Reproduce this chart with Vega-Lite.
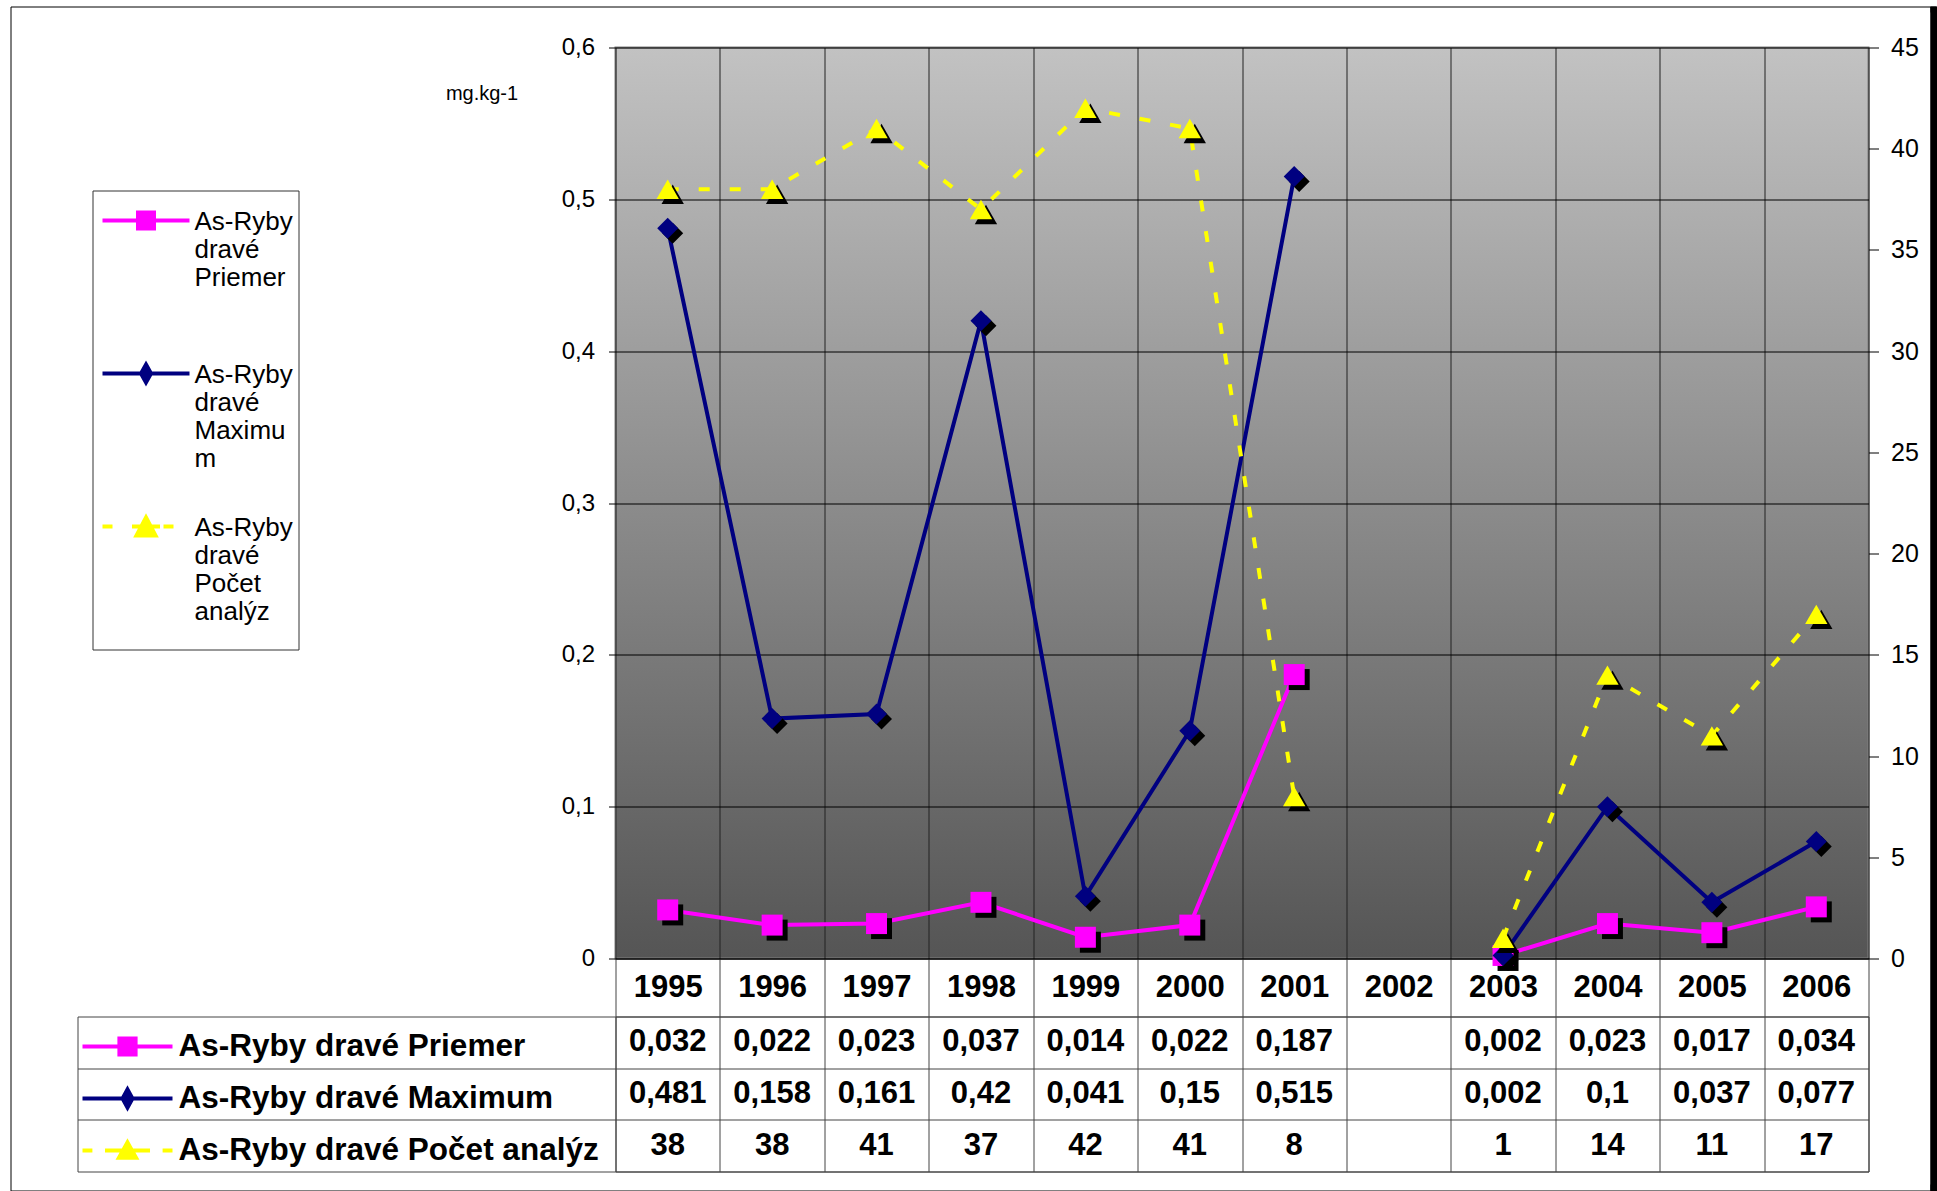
{
  "$schema": "https://vega.github.io/schema/vega-lite/v6.json",
  "padding": {"left": 9.5, "top": 5.5, "right": 0, "bottom": 0},
  "background": "#ffffff",
  "config": {
    "font": "Liberation Sans",
    "locale": {"number": {"decimal": ",", "thousands": " ", "grouping": [3], "currency": ["", " €"]}},
    "axis": {"labelColor": "#000000", "titleColor": "#000000"},
    "legend": {"labelColor": "#000000"}
  },
  "data": {"values": [
    {"year": 1995, "series": "As-Ryby dravé Priemer", "value": 0.032},
    {"year": 1996, "series": "As-Ryby dravé Priemer", "value": 0.022},
    {"year": 1997, "series": "As-Ryby dravé Priemer", "value": 0.023},
    {"year": 1998, "series": "As-Ryby dravé Priemer", "value": 0.037},
    {"year": 1999, "series": "As-Ryby dravé Priemer", "value": 0.014},
    {"year": 2000, "series": "As-Ryby dravé Priemer", "value": 0.022},
    {"year": 2001, "series": "As-Ryby dravé Priemer", "value": 0.187},
    {"year": 2002, "series": "As-Ryby dravé Priemer", "value": null},
    {"year": 2003, "series": "As-Ryby dravé Priemer", "value": 0.002},
    {"year": 2004, "series": "As-Ryby dravé Priemer", "value": 0.023},
    {"year": 2005, "series": "As-Ryby dravé Priemer", "value": 0.017},
    {"year": 2006, "series": "As-Ryby dravé Priemer", "value": 0.034},
    {"year": 1995, "series": "As-Ryby dravé Maximum", "value": 0.481},
    {"year": 1996, "series": "As-Ryby dravé Maximum", "value": 0.158},
    {"year": 1997, "series": "As-Ryby dravé Maximum", "value": 0.161},
    {"year": 1998, "series": "As-Ryby dravé Maximum", "value": 0.42},
    {"year": 1999, "series": "As-Ryby dravé Maximum", "value": 0.041},
    {"year": 2000, "series": "As-Ryby dravé Maximum", "value": 0.15},
    {"year": 2001, "series": "As-Ryby dravé Maximum", "value": 0.515},
    {"year": 2002, "series": "As-Ryby dravé Maximum", "value": null},
    {"year": 2003, "series": "As-Ryby dravé Maximum", "value": 0.002},
    {"year": 2004, "series": "As-Ryby dravé Maximum", "value": 0.1},
    {"year": 2005, "series": "As-Ryby dravé Maximum", "value": 0.037},
    {"year": 2006, "series": "As-Ryby dravé Maximum", "value": 0.077},
    {"year": 1995, "series": "As-Ryby dravé Počet analýz", "value": 38},
    {"year": 1996, "series": "As-Ryby dravé Počet analýz", "value": 38},
    {"year": 1997, "series": "As-Ryby dravé Počet analýz", "value": 41},
    {"year": 1998, "series": "As-Ryby dravé Počet analýz", "value": 37},
    {"year": 1999, "series": "As-Ryby dravé Počet analýz", "value": 42},
    {"year": 2000, "series": "As-Ryby dravé Počet analýz", "value": 41},
    {"year": 2001, "series": "As-Ryby dravé Počet analýz", "value": 8},
    {"year": 2002, "series": "As-Ryby dravé Počet analýz", "value": null},
    {"year": 2003, "series": "As-Ryby dravé Počet analýz", "value": 1},
    {"year": 2004, "series": "As-Ryby dravé Počet analýz", "value": 14},
    {"year": 2005, "series": "As-Ryby dravé Počet analýz", "value": 11},
    {"year": 2006, "series": "As-Ryby dravé Počet analýz", "value": 17}
  ]},
  "bounds": "flush",
  "spacing": 58,
  "resolve": {
    "scale": {"fill": "independent", "stroke": "independent", "shape": "independent"},
    "legend": {"fill": "independent", "stroke": "independent", "shape": "independent"}
  },
  "vconcat": [
    {
      "width": 1253,
      "height": 911,
      "view": {
        "fill": {"gradient": "linear", "x1": 0, "y1": 0, "x2": 0, "y2": 1, "stops": [{"offset": 0, "color": "#c2c2c2"}, {"offset": 1, "color": "#555555"}]},
        "stroke": "#808080",
        "strokeWidth": 2
      },
      "encoding": {
        "x": {
          "field": "year", "type": "ordinal",
          "scale": {"type": "band", "domain": [1995, 1996, 1997, 1998, 1999, 2000, 2001, 2002, 2003, 2004, 2005, 2006], "paddingInner": 0, "paddingOuter": 0},
          "axis": {
            "orient": "bottom", "tickBand": "extent", "grid": true, "gridColor": "#222222", "gridOpacity": 1, "gridWidth": 1,
            "domain": true, "domainColor": "#000000", "domainWidth": 1,
            "ticks": true, "tickSize": 58, "tickColor": "#444444", "tickWidth": 1,
            "labelFontSize": 31, "labelFontWeight": "bold", "labelBaseline": "middle", "labelPadding": -29, "labelAngle": 0,
            "labelOverlap": false, "labelFlush": false, "title": null
          }
        }
      },
      "layer": [
        {
          "encoding": {
            "y": {
              "field": "value", "type": "quantitative",
              "scale": {"domain": [0, 0.6], "nice": false, "zero": true},
              "axis": {
                "orient": "left", "values": [0, 0.1, 0.2, 0.3, 0.4, 0.5, 0.6], "format": "~g",
                "grid": true, "gridColor": "#000000", "gridOpacity": 1, "gridWidth": 1,
                "domain": false, "tickSize": 7, "tickColor": "#000000",
                "labelFontSize": 24, "labelPadding": 14,
                "title": "mg.kg-1", "titleAngle": 0, "titleX": -134, "titleY": 52, "titleAlign": "center", "titleBaseline": "alphabetic",
                "titleFontSize": 20, "titleFontWeight": "normal"
              }
            }
          },
          "layer": [
            {"transform": [{"filter": "datum.series === 'As-Ryby dravé Priemer'"}], "mark": {"type": "line", "color": "#ff00ff", "strokeWidth": 4, "invalid": "break-paths-show-domains"}},
            {"transform": [{"filter": "datum.series === 'As-Ryby dravé Priemer'"}], "mark": {"type": "point", "shape": "square", "filled": true, "color": "#000000", "opacity": 1, "size": 440, "xOffset": 5, "yOffset": 5}},
            {"transform": [{"filter": "datum.series === 'As-Ryby dravé Priemer'"}], "mark": {"type": "point", "shape": "square", "filled": true, "color": "#ff00ff", "opacity": 1, "size": 440}},
            {"transform": [{"filter": "datum.series === 'As-Ryby dravé Maximum'"}], "mark": {"type": "line", "color": "#000080", "strokeWidth": 4, "invalid": "break-paths-show-domains"}},
            {"transform": [{"filter": "datum.series === 'As-Ryby dravé Maximum'"}], "mark": {"type": "point", "shape": "diamond", "filled": true, "color": "#000000", "opacity": 1, "size": 440, "xOffset": 5, "yOffset": 5}},
            {"transform": [{"filter": "datum.series === 'As-Ryby dravé Maximum'"}], "mark": {"type": "point", "shape": "diamond", "filled": true, "color": "#000080", "opacity": 1, "size": 440}}
          ]
        },
        {
          "encoding": {
            "y": {
              "field": "value", "type": "quantitative",
              "scale": {"domain": [0, 45], "nice": false, "zero": true},
              "axis": {
                "orient": "right", "values": [0, 5, 10, 15, 20, 25, 30, 35, 40, 45],
                "grid": false, "domain": false, "tickSize": 10, "tickColor": "#000000",
                "labelFontSize": 25, "labelPadding": 12, "title": null
              }
            }
          },
          "layer": [
            {"transform": [{"filter": "datum.series === 'As-Ryby dravé Počet analýz'"}], "mark": {"type": "line", "color": "#ffff00", "strokeWidth": 4, "strokeDash": [11, 20], "invalid": "break-paths-show-domains"}},
            {"transform": [{"filter": "datum.series === 'As-Ryby dravé Počet analýz'"}], "mark": {"type": "point", "shape": "triangle-up", "filled": true, "color": "#000000", "opacity": 1, "size": 500, "xOffset": 5, "yOffset": 5}},
            {"transform": [{"filter": "datum.series === 'As-Ryby dravé Počet analýz'"}], "mark": {"type": "point", "shape": "triangle-up", "filled": true, "color": "#ffff00", "opacity": 1, "size": 500}}
          ]
        },
        {
          "transform": [{"filter": "false"}],
          "mark": {"type": "point", "filled": true, "opacity": 1},
          "encoding": {
            "fill": {
              "field": "series", "type": "nominal",
              "scale": {"domain": ["As-Ryby dravé Priemer", "As-Ryby dravé Maximum", "As-Ryby dravé Počet analýz"], "range": ["#ff00ff", "#000080", "#ffff00"]},
              "legend": {
                "orient": "none", "legendX": -523, "legendY": 143, "direction": "vertical", "title": null,
                "padding": 5.5, "rowPadding": 11, "gridAlign": "all",
                "symbolSize": 400, "symbolStrokeWidth": 4, "symbolOffset": 35,
                "labelOffset": 35.5, "labelFontSize": 26, "labelLimit": 400, "labelBaseline": "top",
                "labelExpr": "datum.label === 'As-Ryby dravé Priemer' ? ['As-Ryby','dravé','Priemer'] : datum.label === 'As-Ryby dravé Maximum' ? ['As-Ryby','dravé','Maximu','m'] : ['As-Ryby','dravé','Počet','analýz']",
                "strokeColor": "#333333", "fillColor": "#ffffff"
              }
            },
            "stroke": {
              "field": "series", "type": "nominal",
              "scale": {"domain": ["As-Ryby dravé Priemer", "As-Ryby dravé Maximum", "As-Ryby dravé Počet analýz"], "range": ["#ff00ff", "#000080", "#ffff00"]},
              "legend": {
                "orient": "none", "legendX": -523, "legendY": 143, "direction": "vertical", "title": null,
                "padding": 5.5, "rowPadding": 11, "gridAlign": "all",
                "symbolSize": 400, "symbolStrokeWidth": 4, "symbolOffset": 35,
                "labelOffset": 35.5, "labelFontSize": 26, "labelLimit": 400, "labelBaseline": "top",
                "labelExpr": "datum.label === 'As-Ryby dravé Priemer' ? ['As-Ryby','dravé','Priemer'] : datum.label === 'As-Ryby dravé Maximum' ? ['As-Ryby','dravé','Maximu','m'] : ['As-Ryby','dravé','Počet','analýz']",
                "strokeColor": "#333333", "fillColor": "#ffffff"
              }
            },
            "shape": {
              "field": "series", "type": "nominal",
              "scale": {"domain": ["As-Ryby dravé Priemer", "As-Ryby dravé Maximum", "As-Ryby dravé Počet analýz"], "range": ["M-4.35,1.15H4.35M-0.8,0.35H0.8V1.95H-0.8ZM0,12.1", "M-4.35,1.15H4.35M0,0.25L0.5,1.15L0,2.05L-0.5,1.15ZM0,12.1", "M-4.35,1.15H-3.35M-1.4,1.15H1.4M1.75,1.15H2.75M0,0.25L0.95,2.05H-0.95ZM0,12.1"]},
              "legend": {
                "orient": "none", "legendX": -523, "legendY": 143, "direction": "vertical", "title": null,
                "padding": 5.5, "rowPadding": 11, "gridAlign": "all",
                "symbolSize": 400, "symbolStrokeWidth": 4, "symbolOffset": 35,
                "labelOffset": 35.5, "labelFontSize": 26, "labelLimit": 400, "labelBaseline": "top",
                "labelExpr": "datum.label === 'As-Ryby dravé Priemer' ? ['As-Ryby','dravé','Priemer'] : datum.label === 'As-Ryby dravé Maximum' ? ['As-Ryby','dravé','Maximu','m'] : ['As-Ryby','dravé','Počet','analýz']",
                "strokeColor": "#333333", "fillColor": "#ffffff"
              }
            }
          }
        },
        {
          "transform": [{"filter": "false"}],
          "mark": {"type": "point", "filled": true, "color": "transparent"},
          "encoding": {
            "opacity": {
              "field": "series", "type": "ordinal",
              "scale": {"domain": ["frame"], "range": [0]},
              "legend": {
                "orient": "none", "legendX": -605, "legendY": -41, "title": null,
                "padding": 0, "symbolType": "square", "symbolSize": 1401856, "symbolStrokeWidth": 0, "symbolOpacity": 0,
                "labelExpr": "''", "labelOffset": 736, "labelFontSize": 10,
                "strokeColor": "#000000", "fillColor": null,
                "encode": {"symbols": {"fill": {"value": "transparent"}, "stroke": {"value": "transparent"}, "opacity": {"value": 0}}}
              }
            }
          }
        },
        {
          "transform": [{"filter": "false"}],
          "mark": {"type": "point", "filled": true, "color": "#000000", "opacity": 1},
          "encoding": {
            "size": {
              "field": "series", "type": "ordinal",
              "scale": {"domain": ["shadow-a", "shadow-b"], "range": [36, 36]},
              "legend": {
                "orient": "none", "legendX": 1315, "legendY": -41, "title": null, "direction": "vertical",
                "padding": 0, "rowPadding": 1172, "symbolType": "square", "symbolStrokeWidth": 0,
                "labelExpr": "''", "labelOffset": 0, "labelFontSize": 1,
                "strokeColor": "#000000", "fillColor": "#000000"
              }
            }
          }
        }
      ],
      "resolve": {"scale": {"y": "independent"}}
    },
    {
      "width": 1253,
      "height": 155,
      "view": {"stroke": "#444444", "strokeWidth": 1, "fill": "#ffffff"},
      "transform": [{"filter": "isValid(datum.value)"}],
      "encoding": {
        "x": {
          "field": "year", "type": "ordinal",
          "scale": {"type": "band", "domain": [1995, 1996, 1997, 1998, 1999, 2000, 2001, 2002, 2003, 2004, 2005, 2006], "paddingInner": 0, "paddingOuter": 0},
          "axis": {"orient": "bottom", "tickBand": "extent", "grid": true, "gridColor": "#444444", "gridOpacity": 1, "labels": false, "ticks": false, "domain": false, "title": null}
        },
        "y": {
          "field": "series", "type": "nominal",
          "scale": {"type": "band", "domain": ["As-Ryby dravé Priemer", "As-Ryby dravé Maximum", "As-Ryby dravé Počet analýz"], "paddingInner": 0, "paddingOuter": 0},
          "axis": {"orient": "left", "offset": 538, "tickSize": -538, "tickBand": "extent", "ticks": true, "tickColor": "#444444", "grid": true, "gridColor": "#444444", "gridOpacity": 1, "domain": true, "domainColor": "#444444", "labels": false, "title": null}
        }
      },
      "layer": [
        {
          "mark": {"type": "text", "fontSize": 31, "fontWeight": "bold", "color": "#000000", "baseline": "middle", "align": "center"},
          "encoding": {"text": {"field": "value", "type": "quantitative", "format": "~g"}}
        },
        {
          "transform": [{"filter": "false"}],
          "mark": {"type": "point", "filled": true, "opacity": 1},
          "encoding": {
            "fill": {
              "field": "series", "type": "nominal",
              "scale": {"domain": ["As-Ryby dravé Priemer", "As-Ryby dravé Maximum", "As-Ryby dravé Počet analýz"], "range": ["#ff00ff", "#000080", "#ffff00"]},
              "legend": {
                "orient": "none", "legendX": -535, "legendY": 4, "direction": "vertical", "title": null,
                "padding": 0, "rowPadding": 0, "clipHeight": 52,
                "symbolSize": 8100, "symbolStrokeWidth": 4, "symbolOffset": 0,
                "labelOffset": 4, "labelFontSize": 31.5, "labelFontWeight": "bold", "labelLimit": 600, "labelBaseline": "middle"
              }
            },
            "stroke": {
              "field": "series", "type": "nominal",
              "scale": {"domain": ["As-Ryby dravé Priemer", "As-Ryby dravé Maximum", "As-Ryby dravé Počet analýz"], "range": ["#ff00ff", "#000080", "#ffff00"]},
              "legend": {
                "orient": "none", "legendX": -535, "legendY": 4, "direction": "vertical", "title": null,
                "padding": 0, "rowPadding": 0, "clipHeight": 52,
                "symbolSize": 8100, "symbolStrokeWidth": 4, "symbolOffset": 0,
                "labelOffset": 4, "labelFontSize": 31.5, "labelFontWeight": "bold", "labelLimit": 600, "labelBaseline": "middle"
              }
            },
            "shape": {
              "field": "series", "type": "nominal",
              "scale": {"domain": ["As-Ryby dravé Priemer", "As-Ryby dravé Maximum", "As-Ryby dravé Počet analýz"], "range": ["M-1,0H1M-0.18,-0.18H0.18V0.18H-0.18Z", "M-1,0H1M0,-0.2L0.11,0L0,0.2L-0.11,0Z", "M-1,0H-0.78M-0.5,0H0.5M0.78,0H1M0,-0.18L0.19,0.16H-0.19Z"]},
              "legend": {
                "orient": "none", "legendX": -535, "legendY": 4, "direction": "vertical", "title": null,
                "padding": 0, "rowPadding": 0, "clipHeight": 52,
                "symbolSize": 8100, "symbolStrokeWidth": 4, "symbolOffset": 0,
                "labelOffset": 4, "labelFontSize": 31.5, "labelFontWeight": "bold", "labelLimit": 600, "labelBaseline": "middle"
              }
            }
          }
        }
      ]
    }
  ]
}
